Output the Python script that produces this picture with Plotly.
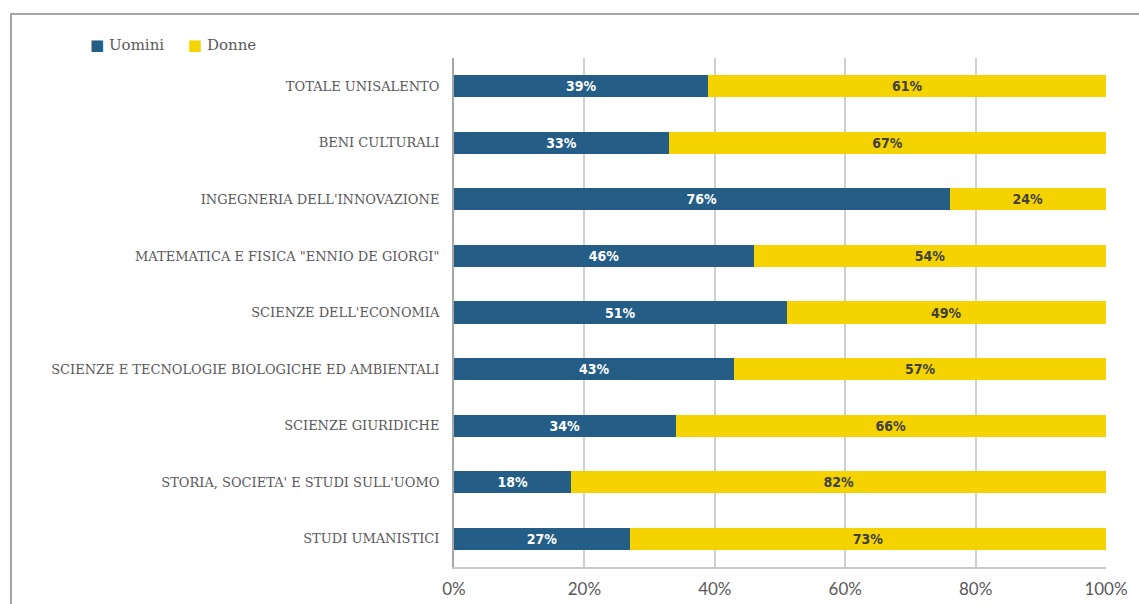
import plotly.graph_objects as go

# Dipartimenti (top to bottom) and gender shares in percent
dipartimenti = [
    "TOTALE UNISALENTO",
    "BENI CULTURALI",
    "INGEGNERIA DELL'INNOVAZIONE",
    'MATEMATICA E FISICA "ENNIO DE GIORGI"',
    "SCIENZE DELL'ECONOMIA",
    "SCIENZE E TECNOLOGIE BIOLOGICHE ED AMBIENTALI",
    "SCIENZE GIURIDICHE",
    "STORIA, SOCIETA' E STUDI SULL'UOMO",
    "STUDI UMANISTICI",
]
uomini = [39, 33, 76, 46, 51, 43, 34, 18, 27]
donne = [61, 67, 24, 54, 49, 57, 66, 82, 73]
serie = ["Uomini", "Donne"]
tick_vals = [0, 20, 40, 60, 80, 100]
tick_text = ["0%", "20%", "40%", "60%", "80%", "100%"]

BLUE = "#245E87"
YELLOW = "#F5D300"
LABEL_FONT = "DejaVu Sans Condensed"
SERIF = "DejaVu Serif"
GREY_TEXT = "#595959"

W, H = 1139, 604
L, R, T, B = 454, 33, 58, 37
pw, ph = W - L - R, H - T - B


def px_to_paper_x(px):
    return (px - L) / pw


def px_to_paper_y(py):
    return (H - B - py) / ph


fig = go.Figure()
fig.add_trace(go.Bar(
    name=serie[0], y=dipartimenti, x=uomini, orientation="h",
    marker=dict(color=BLUE, line=dict(width=0)),
    text=[f"{v}%" for v in uomini], textposition="inside",
    insidetextanchor="middle",
    textfont=dict(family=LABEL_FONT, size=14, color="white", weight="bold"),
    hoverinfo="skip",
))
fig.add_trace(go.Bar(
    name=serie[1], y=dipartimenti, x=donne, orientation="h",
    marker=dict(color=YELLOW, line=dict(width=0)),
    text=[f"{v}%" for v in donne], textposition="inside",
    insidetextanchor="middle",
    textfont=dict(family=LABEL_FONT, size=14, color="#404040", weight="bold"),
    hoverinfo="skip",
))

# outer frame around the chart
fig.add_shape(
    type="rect", xref="paper", yref="paper",
    x0=px_to_paper_x(11), x1=px_to_paper_x(1150),
    y0=px_to_paper_y(615), y1=px_to_paper_y(14),
    line=dict(color="#A6A6A6", width=2), fillcolor="rgba(0,0,0,0)",
    layer="below",
)

# compact legend: coloured square followed by the series name
legend_text = (
    f'<span style="color:{BLUE}">■</span> {serie[0]}'
    f'&nbsp;&nbsp;&nbsp;&nbsp;&nbsp;'
    f'<span style="color:{YELLOW}">■</span> {serie[1]}'
)
fig.add_annotation(
    xref="paper", yref="paper",
    x=px_to_paper_x(88), xanchor="left",
    y=px_to_paper_y(45), yanchor="middle",
    text=legend_text, showarrow=False,
    font=dict(family=SERIF, size=15, color=GREY_TEXT),
)

fig.update_layout(
    width=W, height=H,
    margin=dict(l=L, r=R, t=T, b=B, pad=0, autoexpand=False),
    barmode="stack",
    bargap=0.61,
    paper_bgcolor="white",
    plot_bgcolor="white",
    showlegend=False,
    xaxis=dict(
        range=[0, 100],
        tickvals=tick_vals, ticktext=tick_text,
        showgrid=True, gridcolor="#D0D0D0", gridwidth=1.5,
        zeroline=False,
        showline=True, linecolor="#C8C8C8", linewidth=1.5,
        ticks="", ticklabelstandoff=6,
        tickfont=dict(family="Lato", size=17, color=GREY_TEXT),
        automargin=False,
        fixedrange=True,
    ),
    yaxis=dict(
        autorange="reversed",
        showgrid=False, zeroline=False,
        showline=True, linecolor="#A6A6A6", linewidth=2,
        ticks="", ticklabelstandoff=10,
        tickfont=dict(family=SERIF, size=13, color=GREY_TEXT),
        automargin=False,
        fixedrange=True,
    ),
)

fig.write_html("out.html")
